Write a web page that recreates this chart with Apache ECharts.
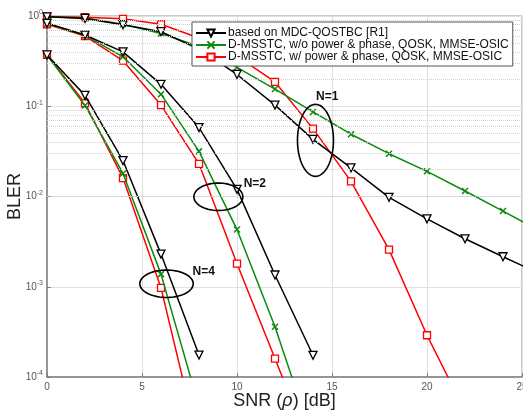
<!DOCTYPE html>
<html>
<head>
<meta charset="utf-8">
<script src="https://cdn.jsdelivr.net/npm/echarts@6/dist/echarts.min.js"></script>
<style>html,body{margin:0;padding:0;background:#fff;}#c{width:523px;height:410px;}</style>
</head>
<body>
<div id="c"></div>
<script>
// SNR sample points (dB)
const snr = [0, 2, 4, 6, 8, 10, 12, 14, 16, 18, 20, 22, 24, 26];

// Legend names
const names = [
  'based on MDC-QOSTBC [R1]',
  'D-MSSTC, w/o power & phase, QOSK, MMSE-OSIC',
  'D-MSSTC, w/ power & phase, QOSK, MMSE-OSIC'
];

// N = 1
const black1 = [0.98, 0.94, 0.80, 0.67, 0.43, 0.225, 0.103, 0.043, 0.0208, 0.0098, 0.00565, 0.0034, 0.00215, 0.00137];
const green1 = [0.98, 0.95, 0.81, 0.64, 0.46, 0.27, 0.155, 0.0865, 0.049, 0.0298, 0.019, 0.0115, 0.0069, 0.0041];
const red1   = [0.99, 0.97, 0.93, 0.81, 0.57, 0.36, 0.186, 0.0565, 0.0147, 0.00258, 0.00029, 0.000042];
// N = 2
const black2 = [0.83, 0.615, 0.40, 0.175, 0.058, 0.012, 0.00135, 0.000174];
const green2 = [0.82, 0.61, 0.353, 0.136, 0.0316, 0.0043, 0.00036, 0.00002];
const red2   = [0.81, 0.60, 0.32, 0.103, 0.023, 0.0018, 0.00016, 0.000014];
// N = 4
const black4 = [0.37, 0.132, 0.025, 0.0023, 0.000175];
const green4 = [0.37, 0.102, 0.018, 0.00138, 0.000047];
const red4   = [0.37, 0.108, 0.016, 0.00097, 0.000017];

// minor grid values
const minorGrid = [];
for (let e = -4; e < 0; e++) for (let m = 2; m <= 9; m++) minorGrid.push(m * Math.pow(10, e));

// annotations: [label, ellipseX, ellipseY, rx, ry, labelX, labelY]
const annotations = [
  ['N=1', 14.13, 0.0419, 18, 36, 14.75, 0.127],
  ['N=2', 9.02, 0.00993, 24.5, 13.7, 10.94, 0.01384],
  ['N=4', 6.29, 0.00108, 26.7, 13.7, 8.25, 0.00147]
];

const FONT = "'Liberation Sans', Arial, sans-serif";
const styles = [
  {symbol: 'triangle', symbolRotate: 180, symbolSize: 8,
   itemStyle: {color: '#fff', borderColor: '#000', borderWidth: 1.3},
   lineStyle: {color: '#000', width: 1.5}},
  {symbol: 'path://M0,0L10,10M10,0L0,10', symbolSize: 6,
   itemStyle: {color: 'rgba(0,0,0,0)', borderColor: '#0b8a0b', borderWidth: 1.5},
   lineStyle: {color: '#0b8a0b', width: 1.5}},
  {symbol: 'rect', symbolSize: 7,
   itemStyle: {color: '#fff', borderColor: '#ff0000', borderWidth: 1.3},
   lineStyle: {color: '#ff0000', width: 1.5}}
];

function mk(idx, vals, extra) {
  const s = Object.assign({
    type: 'line', name: names[idx], clip: true, animation: false,
    showAllSymbol: true, z: 3 + (2 - idx) * 0.1,
    data: vals.map((v, i) => [snr[i], v])
  }, styles[idx], extra || {});
  return s;
}

const series = [
  mk(0, black1, {markLine: {silent: true, symbol: 'none', animation: false,
    label: {show: false}, lineStyle: {type: 'dotted', color: '#cfcfcf', width: 1},
    data: minorGrid.map(v => ({yAxis: v}))}}),
  mk(1, green1), mk(2, red1),
  mk(0, black2), mk(1, green2), mk(2, red2),
  mk(0, black4), mk(1, green4), mk(2, red4)
];

const chart = echarts.init(document.getElementById('c'), null, {renderer: 'canvas'});
chart.setOption({
  animation: false,
  backgroundColor: '#fff',
  textStyle: {fontFamily: FONT},
  grid: {left: 47, right: 1, top: 16, bottom: 33, show: true, borderColor: '#9a9a9a', borderWidth: 1,
         backgroundColor: 'transparent', containLabel: false, outerBoundsMode: 'none'},
  legend: {
    data: names, orient: 'vertical', left: 192, top: 22,
    padding: [5, 4, 3, 3],
    itemWidth: 30, itemHeight: 9, itemGap: 0,
    backgroundColor: '#fff', borderColor: '#555', borderWidth: 1,
    textStyle: {fontFamily: FONT, fontSize: 12, lineHeight: 10, color: '#111', padding: [0, 0, 0, -3]},
    z: 10
  },
  xAxis: {
    type: 'value', min: 0, max: 25, interval: 5,
    name: 'SNR ({i|ρ}) [dB]', nameLocation: 'middle', nameGap: 15, nameMoveOverlap: false,
    nameTextStyle: {fontFamily: FONT, fontSize: 18, color: '#222',
      rich: {i: {fontFamily: FONT, fontSize: 18, fontStyle: 'italic', color: '#222'}}},
    axisLine: {lineStyle: {color: '#808080', width: 1.5}},
    axisTick: {inside: true, length: 4, lineStyle: {color: '#808080'}},
    axisLabel: {fontSize: 10, color: '#555', margin: 5},
    splitLine: {show: true, lineStyle: {color: '#e0e0e0', width: 1}}
  },
  yAxis: {
    type: 'log', min: 1e-4, max: 1, logBase: 10,
    name: 'BLER', nameLocation: 'middle', nameGap: 23, nameMoveOverlap: false,
    nameTextStyle: {fontFamily: FONT, fontSize: 18, color: '#222'},
    axisLine: {lineStyle: {color: '#808080', width: 1.5}},
    axisTick: {inside: true, length: 4, lineStyle: {color: '#808080'}},
    axisLabel: {
      margin: 4, color: '#555',
      formatter: function (v) {
        const e = Math.round(Math.log10(v));
        return '{b|10}{s|' + e + '}';
      },
      rich: {
        b: {fontSize: 10, color: '#555', fontFamily: FONT},
        s: {fontSize: 7, color: '#555', fontFamily: FONT, padding: [0, 0, 7, 0]}
      }
    },
    splitLine: {show: true, lineStyle: {color: '#e0e0e0', width: 1}}
  },
  series: series
});

// annotations via the chart's own coordinate conversion
const g = [];
annotations.forEach(function (a) {
  const c = chart.convertToPixel({gridIndex: 0}, [a[1], a[2]]);
  const pts = [];
  for (let k = 0; k < 72; k++) {
    const t = k / 72 * Math.PI * 2;
    pts.push([c[0] + a[3] * Math.cos(t), c[1] + a[4] * Math.sin(t)]);
  }
  g.push({type: 'polygon', z: 20, shape: {points: pts},
          style: {fill: 'none', stroke: '#000', lineWidth: 1.6}});
  const l = chart.convertToPixel({gridIndex: 0}, [a[5], a[6]]);
  g.push({type: 'text', z: 20, x: l[0], y: l[1],
          style: {text: a[0], fill: '#111', font: 'bold 12px ' + FONT, align: 'center', verticalAlign: 'middle'}});
});
chart.setOption({graphic: g});
</script>
</body>
</html>
